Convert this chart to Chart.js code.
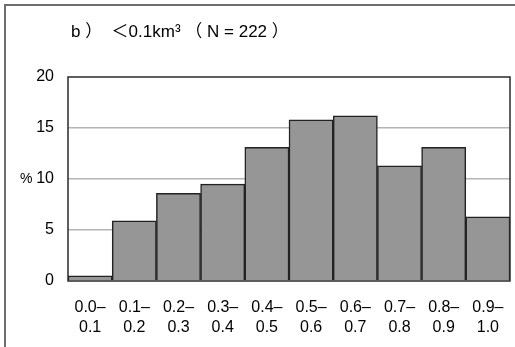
<!DOCTYPE html>
<html>
<head>
<meta charset="utf-8">
<script src="https://cdn.jsdelivr.net/npm/chart.js@4"></script>
<style>
  html, body { margin: 0; padding: 0; background: #fff; }
  #wrap { position: relative; width: 515px; height: 347px; overflow: hidden; }
  #frame { position: absolute; left: 4px; top: 4px; width: 600px; height: 400px; border: 2px solid #6e6e6e; box-sizing: border-box; }
  canvas { position: absolute; left: 0; top: 0; }
</style>
</head>
<body>
<div id="wrap">
  <div id="frame"></div>
  <canvas id="histChart" width="515" height="347"></canvas>
</div>
<script>
// 体積区分ごとの割合 (%)
const binLabels = [
  ["0.0–", "0.1"], ["0.1–", "0.2"], ["0.2–", "0.3"], ["0.3–", "0.4"], ["0.4–", "0.5"],
  ["0.5–", "0.6"], ["0.6–", "0.7"], ["0.7–", "0.8"], ["0.8–", "0.9"], ["0.9–", "1.0"]
];
const percentValues = [0.5, 5.9, 8.6, 9.5, 13.1, 15.8, 16.2, 11.3, 13.1, 6.3];
const yTicks = [0, 5, 10, 15, 20];
const titleText = "b ）  ＜0.1km³ （ N = 222 ）";
const yUnit = "%";

const fontFamily = "'Liberation Sans', Arial, 'Noto Sans CJK JP', sans-serif";
const tickFamily = "'Liberation Sans Narrow', 'Arial Narrow', 'Liberation Sans', sans-serif";

// タイトルと「%」、プロット枠を描く
const decorPlugin = {
  id: "decor",
  afterDraw(chart) {
    const ctx = chart.ctx;
    const area = chart.chartArea;
    const yScale = chart.scales.y;
    ctx.save();
    ctx.strokeStyle = "#2a2a2a";
    ctx.lineWidth = 1.5;
    ctx.strokeRect(area.left, area.top, area.right - area.left, area.bottom - area.top);

    ctx.fillStyle = "#000";
    ctx.font = "17px " + fontFamily;
    ctx.textBaseline = "alphabetic";
    ctx.textAlign = "left";
    ctx.fillText(titleText, 71, 37);

    ctx.font = "14px " + tickFamily;
    ctx.textBaseline = "middle";
    ctx.fillText(yUnit, 20, yScale.getPixelForValue(10));
    ctx.restore();
  },
};

const ctx = document.getElementById("histChart").getContext("2d");
new Chart(ctx, {
  type: "bar",
  data: {
    labels: binLabels,
    datasets: [
      {
        label: "%",
        data: percentValues,
        backgroundColor: "#969696",
        borderColor: "#222",
        borderWidth: 1.5,
        barPercentage: 1,
        categoryPercentage: 1,
      },
    ],
  },
  options: {
    responsive: false,
    animation: false,
    layout: { padding: { top: 77, right: 5, left: 0, bottom: 0 } },
    plugins: {
      legend: { display: false },
      tooltip: { enabled: false },
    },
    scales: {
      x: {
        grid: { display: false, drawTicks: false },
        border: { display: false },
        ticks: {
          color: "#000",
          font: { size: 16, family: tickFamily, lineHeight: 1.25 },
          padding: 17,
          maxRotation: 0,
          autoSkip: false,
        },
        afterFit(scale) {
          scale.height = 66;
          scale.paddingLeft = 0;
          scale.paddingRight = 0;
        },
      },
      y: {
        min: 0,
        max: 20,
        afterBuildTicks(scale) {
          scale.ticks = yTicks.map((v) => ({ value: v }));
        },
        grid: {
          drawTicks: false,
          color: (c) => (c.tick && (c.tick.value === 0 || c.tick.value === 20) ? "rgba(0,0,0,0)" : "#b4b4b4"),
          lineWidth: 1.5,
        },
        border: { display: false },
        ticks: {
          color: "#000",
          font: { size: 16, family: tickFamily },
          padding: 14,
        },
        afterFit(scale) {
          scale.width = 68;
          scale.paddingTop = 0;
          scale.paddingBottom = 0;
        },
      },
    },
  },
  plugins: [decorPlugin],
});
</script>
</body>
</html>
